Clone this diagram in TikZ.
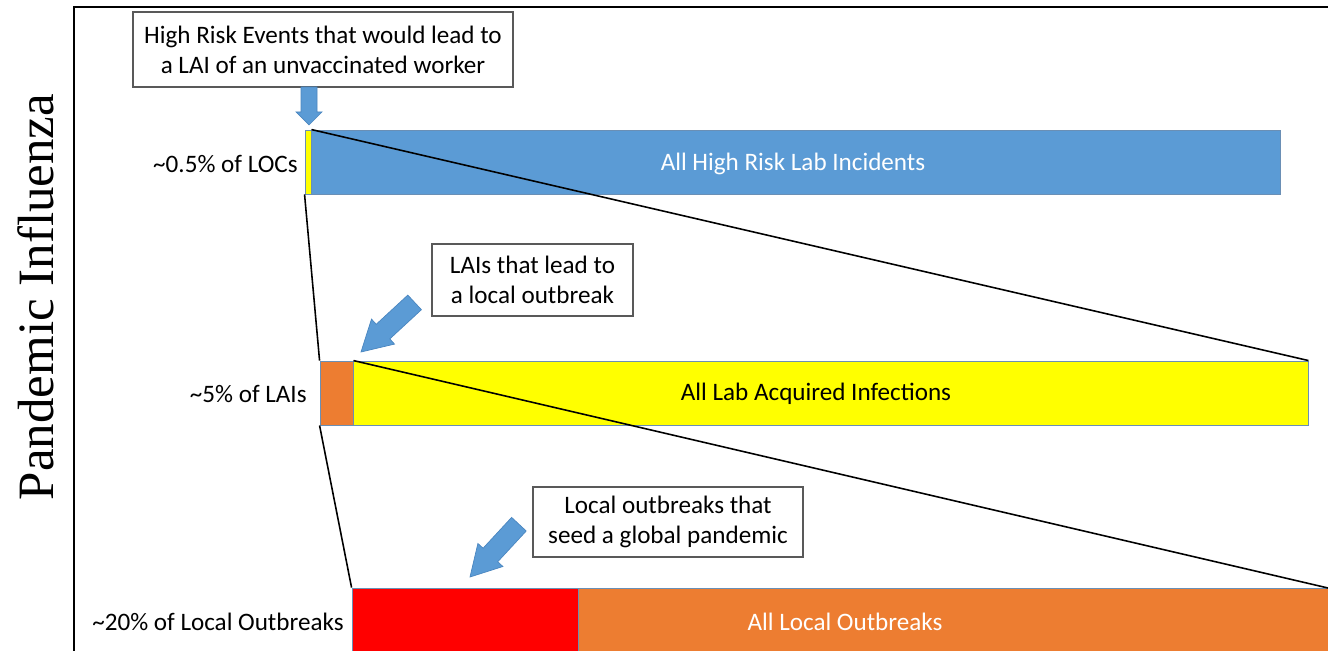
\documentclass[tikz,border=0pt]{standalone}
\usepackage{fontspec}
\setmainfont{Carlito}
\newfontfamily\axisfont{Liberation Serif}
\usetikzlibrary{fit}
\definecolor{barblue}{HTML}{5B9BD5}
\definecolor{barorange}{HTML}{ED7D31}
\definecolor{baryellow}{HTML}{FFFF00}
\definecolor{barred}{HTML}{FF0000}
\definecolor{barline}{HTML}{6A8FB5}
\definecolor{arrowline}{HTML}{4A86C0}
\definecolor{boxline}{HTML}{595959}
\tikzset{
  bar/.style={inner sep=0pt, draw=barline, line width=0.5pt},
  lbl/.style={font=\fontsize{14.3}{17.2}\selectfont, anchor=east, inner sep=0pt},
  bartext/.style={font=\fontsize{14.3}{17.2}\selectfont, inner sep=0pt},
  callout/.style={draw=boxline, fill=white, line width=0.8pt, align=center,
    font=\fontsize{14.3}{17.2}\selectfont, inner sep=0pt},
  blockarrow/.style={fill=barblue, draw=arrowline, line width=0.4pt},
  funnel/.style={black, line width=0.9pt}
}
\begin{document}
\begin{tikzpicture}[x=0.02cm,y=-0.02cm]
\useasboundingbox (0,0) rectangle (1328,651);
\fill[white] (0,0) rectangle (1328,651);
% frame
\draw[line width=1.2pt] (74,651) -- (74,7) -- (1328,7);
% axis label
\node[font=\axisfont\fontsize{29}{34}\selectfont, rotate=90] (axis) at (36,297) {Pandemic Influenza};

% level 1
\node[bar, fill=barblue, fit={(305,130) (1280,194)}] (blue) {};
\node[bar, fill=baryellow, fit={(305,130) (311,194)}] (sliver) {};
\node[bartext, text=white] (bluetxt) at (793,164) {All High Risk Lab Incidents};
\node[lbl] (l1) at (298,164) {\textasciitilde0.5\% of LOCs};

% level 2
\node[bar, fill=baryellow, fit={(353,361) (1308,425)}] (yellow) {};
\node[bar, fill=barorange, fit={(320,361) (353,425)}] (orange) {};
\node[bartext, text=black] (yellowtxt) at (816,394) {All Lab Acquired Infections};
\node[lbl] (l2) at (307,394) {\textasciitilde5\% of LAIs};

% level 3
\node[bar, fill=barorange, fit={(578,588) (1340,660)}] (local) {};
\node[bar, fill=barred, fit={(352,588) (578,660)}] (red) {};
\node[bartext, text=white] (localtxt) at (845,622) {All Local Outbreaks};
\node[lbl] (l3) at (344,622) {\textasciitilde20\% of Local Outbreaks};

% funnel lines
\coordinate (rightedge) at (1328,588);
\draw[funnel] (sliver.north east) -- (yellow.north east);
\draw[funnel] (sliver.south west) -- (orange.north west);
\draw[funnel] (orange.north east) -- (rightedge);
\draw[funnel] (orange.south west) -- (red.north west);

% callouts
\node[callout, minimum width=380*0.02cm, minimum height=75*0.02cm] (c1) at (323,49.5)
  {High Risk Events that would lead to\\a LAI of an unvaccinated worker};
\node[callout, minimum width=201*0.02cm, minimum height=72*0.02cm] (c2) at (532.5,280)
  {LAIs that lead to\\a local outbreak};
\node[callout, minimum width=270*0.02cm, minimum height=70*0.02cm] (c3) at (668,522)
  {Local outbreaks that\\seed a global pandemic};

% block arrows
\draw[blockarrow] (301,87) -- (301,112) -- (296,112) -- (309,125) -- (322,112) -- (317,112) -- (317,87) -- cycle;
\draw[blockarrow] (421.4,309.7) -- (389.8,338.9) -- (394.5,344.1) -- (361,352) -- (371.5,319.1) -- (376.2,324.3) -- (407.8,295.1) -- cycle;
\draw[blockarrow] (526.2,531.0) -- (497.7,561.8) -- (502.9,566.5) -- (470,577) -- (477.9,543.5) -- (483.1,548.2) -- (511.6,517.4) -- cycle;
\end{tikzpicture}
\end{document}
